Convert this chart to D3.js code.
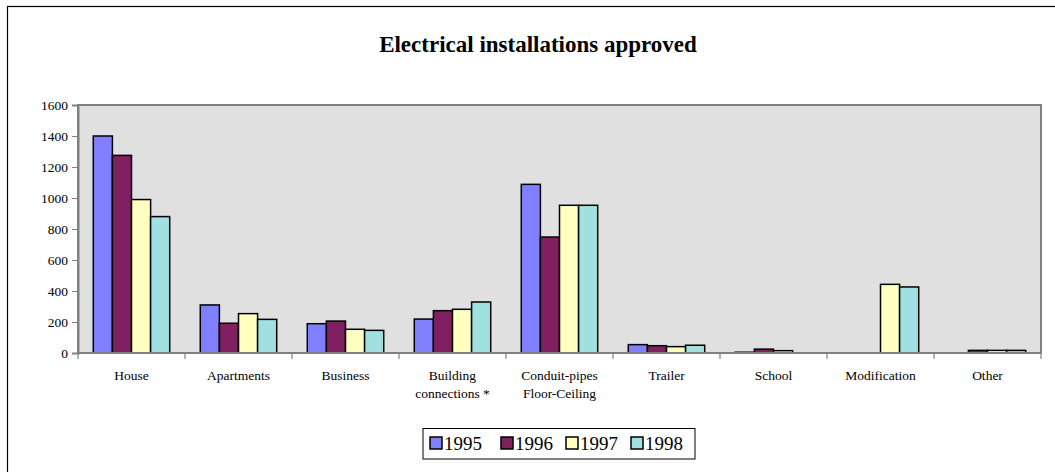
<!DOCTYPE html>
<html>
<head>
<meta charset="utf-8">
<script src="https://cdn.jsdelivr.net/npm/d3@7"></script>
<style>
  body { margin: 0; background: #fff; }
  svg text { font-family: "Liberation Serif", "Times New Roman", serif !important; fill: #000; }
</style>
</head>
<body>
<div id="chart"></div>
<script>
const categories = ["House", "Apartments", "Business", "Building\nconnections *", "Conduit-pipes\nFloor-Ceiling", "Trailer", "School", "Modification", "Other"];
const years = ["1995", "1996", "1997", "1998"];
const values1995 = [1400, 310, 189, 219, 1088, 54, 5, 0, 0];
const values1996 = [1275, 192, 206, 273, 748, 47, 25, 0, 17];
const values1997 = [990, 254, 153, 282, 953, 41, 15, 443, 17];
const values1998 = [880, 217, 146, 329, 953, 50, 0, 426, 17];
const yTicks = [0, 200, 400, 600, 800, 1000, 1200, 1400, 1600];
const colors = ["#8080ff", "#802060", "#ffffc0", "#a0e0e0"];

const series = [values1995, values1996, values1997, values1998];

const W = 1055, H = 472;
const margin = { top: 105, right: 14, bottom: 119, left: 78 };
const width = W - margin.left - margin.right;
const height = H - margin.top - margin.bottom;

const svg = d3.select("#chart").append("svg")
  .attr("width", W)
  .attr("height", H);

// outer chart frame (runs off the right/bottom edge like the original)
svg.append("rect")
  .attr("x", 7.5).attr("y", 6.5)
  .attr("width", W + 20).attr("height", H + 20)
  .attr("fill", "none").attr("stroke", "#000").attr("stroke-width", 1.2);

svg.append("text")
  .attr("x", 538)
  .attr("y", 52)
  .attr("text-anchor", "middle")
  .attr("font-size", "23px")
  .attr("font-weight", "bold")
  .text("Electrical installations approved");

const g = svg.append("g")
  .attr("transform", `translate(${margin.left},${margin.top})`);

const x0 = d3.scaleBand()
  .domain(categories)
  .range([0, width])
  .padding(0);

const x1 = d3.scaleBand()
  .domain(years)
  .range([0, x0.bandwidth()])
  .paddingInner(0)
  .paddingOuter(0.8);

const y = d3.scaleLinear()
  .domain([0, 1600])
  .range([height, 0]);

// plot area
g.append("rect")
  .attr("width", width).attr("height", height)
  .attr("fill", "#e0e0e0")
  .attr("stroke", "#808080").attr("stroke-width", 2);

const rows = categories.map((c, i) => years.map((yr, j) => ({ cat: c, year: yr, j: j, v: series[j][i] })));

g.append("g")
  .selectAll("g")
  .data(rows)
  .join("g")
  .attr("transform", d => `translate(${x0(d[0].cat)},0)`)
  .selectAll("rect")
  .data(d => d.filter(e => e.v > 0))
  .join("rect")
  .attr("x", d => x1(d.year))
  .attr("y", d => y(d.v))
  .attr("width", x1.bandwidth())
  .attr("height", d => height - y(d.v))
  .attr("fill", d => colors[d.j])
  .attr("stroke", "#000")
  .attr("stroke-width", 1.5);

// y axis
const yAxis = g.append("g")
  .call(d3.axisLeft(y).tickValues(yTicks).tickSize(6).tickPadding(4).tickFormat(d3.format("d")));
yAxis.select(".domain").attr("stroke", "#808080").attr("stroke-width", 2);
yAxis.selectAll(".tick line").attr("stroke", "#808080");
yAxis.selectAll("text")
  .attr("font-size", "13.5px");

// x axis: ticks between categories
const xAxis = g.append("g").attr("transform", `translate(0,${height})`);
xAxis.append("line")
  .attr("x1", 0).attr("x2", width)
  .attr("stroke", "#808080").attr("stroke-width", 2);
xAxis.selectAll("line.tk")
  .data(categories.concat([null]))
  .join("line")
  .attr("class", "tk")
  .attr("x1", (d, i) => i * x0.step())
  .attr("x2", (d, i) => i * x0.step())
  .attr("y1", 0).attr("y2", 6)
  .attr("stroke", "#808080").attr("stroke-width", 1.2);

const labels = xAxis.selectAll("text.cat")
  .data(categories)
  .join("text")
  .attr("class", "cat")
  .attr("x", d => x0(d) + x0.bandwidth() / 2)
  .attr("y", 27)
  .attr("text-anchor", "middle")
  .attr("font-size", "13.5px");
labels.selectAll("tspan")
  .data(d => d.split("\n"))
  .join("tspan")
  .attr("x", function() { return this.parentNode.getAttribute("x"); })
  .attr("dy", (d, i) => i === 0 ? 0 : 18)
  .text(d => d);

// legend
const legend = svg.append("g");
legend.append("rect")
  .attr("x", 423).attr("y", 428.5)
  .attr("width", 272).attr("height", 30.5)
  .attr("fill", "#fff").attr("stroke", "#000").attr("stroke-width", 1);

const itemX = [430, 501, 566, 631];
const items = legend.selectAll("g.item")
  .data(years)
  .join("g")
  .attr("class", "item")
  .attr("transform", (d, i) => `translate(${itemX[i]},437)`);
items.append("rect")
  .attr("width", 12).attr("height", 12)
  .attr("fill", (d, i) => colors[i])
  .attr("stroke", "#000").attr("stroke-width", 1.5);
items.append("text")
  .attr("x", 14)
  .attr("y", 12.5)
  .attr("font-size", "19px")
  .text(d => d);
</script>
</body>
</html>
